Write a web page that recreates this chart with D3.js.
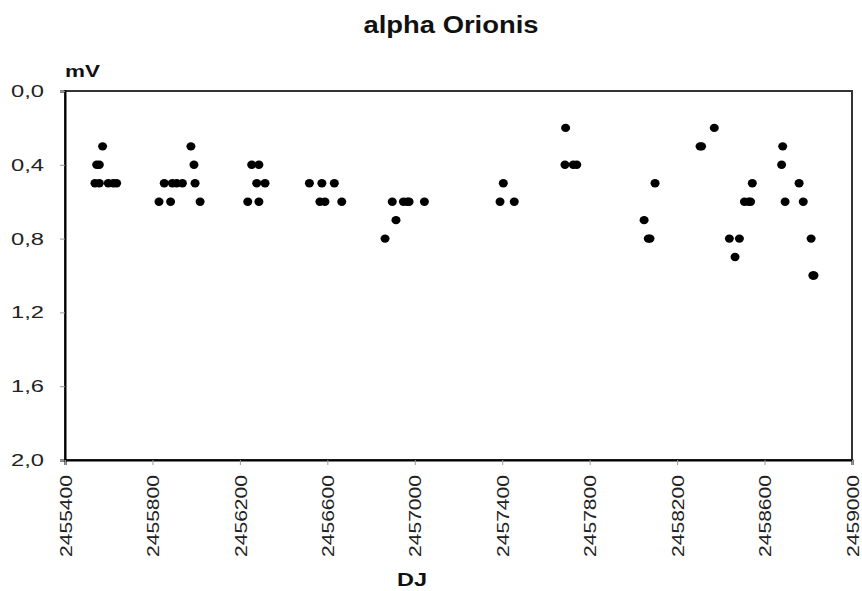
<!DOCTYPE html>
<html>
<head>
<meta charset="utf-8">
<script src="https://cdn.jsdelivr.net/npm/d3@7"></script>
<style>
  body { margin: 0; background: #fff; }
  svg text { font-family: "Liberation Sans", Arial, sans-serif; }
</style>
</head>
<body>
<svg id="chart"></svg>
<script>
// Chart size
const width = 862;
const height = 591;

// Julian dates (DJ) and magnitudes (mV)
const dj = [
  2455545, 2455557, 2455572, 2455537, 2455557, 2455598, 2455621, 2455636,
  2455854, 2455891, 2455911, 2455937, 2455995, 2455830, 2455883, 2456018, 2455976, 2455990,
  2456254, 2456287, 2456277, 2456315, 2456236, 2456287,
  2456518, 2456575, 2456632, 2456566, 2456589, 2456666,
  2456897, 2456948, 2456966, 2456974, 2457044, 2456914, 2456864,
  2457405, 2457390, 2457455,
  2457690, 2457687, 2457725, 2457741,
  2458049, 2458068, 2458076, 2458099,
  2458305, 2458312, 2458370,
  2458439, 2458485, 2458465, 2458508, 2458528, 2458536, 2458544,
  2458683, 2458678, 2458694, 2458758, 2458777, 2458813, 2458821, 2458826
];
const mv = [
  0.4, 0.4, 0.3, 0.5, 0.5, 0.5, 0.5, 0.5,
  0.5, 0.5, 0.5, 0.5, 0.5, 0.6, 0.6, 0.6, 0.3, 0.4,
  0.4, 0.4, 0.5, 0.5, 0.6, 0.6,
  0.5, 0.5, 0.5, 0.6, 0.6, 0.6,
  0.6, 0.6, 0.6, 0.6, 0.6, 0.7, 0.8,
  0.5, 0.6, 0.6,
  0.2, 0.4, 0.4, 0.4,
  0.7, 0.8, 0.8, 0.5,
  0.3, 0.3, 0.2,
  0.8, 0.8, 0.9, 0.6, 0.6, 0.6, 0.5,
  0.3, 0.4, 0.6, 0.5, 0.6, 0.8, 1.0, 1.0
];

// Tick values
const xTicks = [2455400, 2455800, 2456200, 2456600, 2457000, 2457400, 2457800, 2458200, 2458600, 2459000];
const yTicks = [0, 0.4, 0.8, 1.2, 1.6, 2.0];

const margin = { top: 91, right: 10, bottom: 131, left: 65 };

const svg = d3.select('#chart')
  .attr('width', width)
  .attr('height', height);

const x = d3.scaleLinear()
  .domain([2455400, 2459000])
  .range([margin.left, width - margin.right]);

const y = d3.scaleLinear()
  .domain([0, 2])
  .range([margin.top, height - margin.bottom]);

const fmt = (d) => d3.format('.1f')(d).replace('.', ',');

// Plot frame
svg.append('rect')
  .attr('x', x.range()[0])
  .attr('y', y.range()[0])
  .attr('width', x.range()[1] - x.range()[0])
  .attr('height', y.range()[1] - y.range()[0])
  .attr('fill', 'none')
  .attr('stroke', '#333')
  .attr('stroke-width', 2);

// Y axis
const yAxis = svg.append('g')
  .attr('transform', `translate(${margin.left},0)`)
  .call(d3.axisLeft(y).tickValues(yTicks).tickFormat(fmt).tickSize(5).tickPadding(16));
yAxis.select('.domain').attr('stroke', '#000').attr('stroke-width', 2);
yAxis.selectAll('.tick line').attr('stroke', '#999');
yAxis.selectAll('.tick text')
  .attr('fill', '#222')
  .style('font-size', '17px')
  .attr('textLength', 33)
  .attr('lengthAdjust', 'spacingAndGlyphs');

// X axis (rotated labels, stretched along their length like the reference)
const xAxis = svg.append('g')
  .attr('transform', `translate(0,${height - margin.bottom})`)
  .call(d3.axisBottom(x).tickValues(xTicks).tickFormat(d3.format('d')).tickSize(5));
xAxis.select('.domain').attr('stroke', '#000').attr('stroke-width', 2);
xAxis.selectAll('.tick line').attr('stroke', '#999');
xAxis.selectAll('.tick text')
  .attr('fill', '#222')
  .style('font-size', '17px')
  .attr('transform', 'rotate(-90)')
  .attr('text-anchor', 'end')
  .attr('x', -15)
  .attr('y', 0)
  .attr('dy', '0.36em')
  .attr('textLength', 82)
  .attr('lengthAdjust', 'spacingAndGlyphs');

// Points
svg.append('g')
  .selectAll('ellipse')
  .data(dj.map((d, i) => ({ dj: d, mv: mv[i] })))
  .enter()
  .append('ellipse')
  .attr('cx', (d) => x(d.dj))
  .attr('cy', (d) => y(d.mv))
  .attr('rx', 4.5)
  .attr('ry', 4.2)
  .attr('fill', '#000');

// Titles
svg.append('text')
  .attr('x', 451)
  .attr('y', 33)
  .attr('text-anchor', 'middle')
  .style('font-size', '23px')
  .style('font-weight', 'bold')
  .attr('fill', '#111')
  .attr('textLength', 175)
  .attr('lengthAdjust', 'spacingAndGlyphs')
  .text('alpha Orionis');

svg.append('text')
  .attr('x', 65)
  .attr('y', 77)
  .style('font-size', '17px')
  .style('font-weight', 'bold')
  .attr('fill', '#111')
  .attr('textLength', 35)
  .attr('lengthAdjust', 'spacingAndGlyphs')
  .text('mV');

svg.append('text')
  .attr('x', 412)
  .attr('y', 586)
  .attr('text-anchor', 'middle')
  .style('font-size', '18px')
  .style('font-weight', 'bold')
  .attr('fill', '#111')
  .attr('textLength', 30)
  .attr('lengthAdjust', 'spacingAndGlyphs')
  .text('DJ');
</script>
</body>
</html>
